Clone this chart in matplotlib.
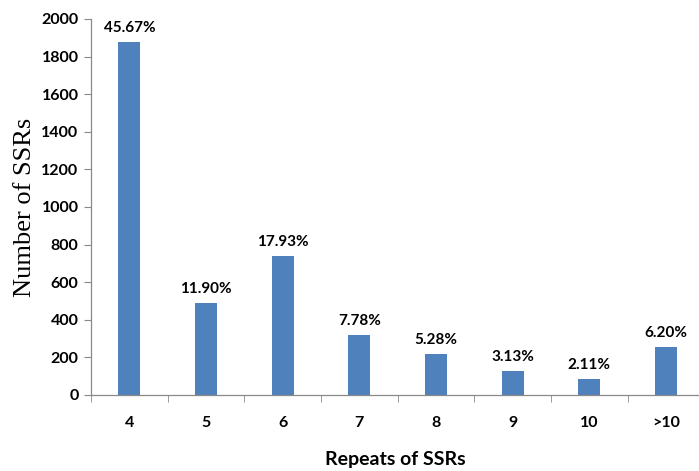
import numpy as np
import matplotlib.pyplot as plt

categories = ["4", "5", "6", "7", "8", "9", "10", ">10"]
counts = [1879, 490, 738, 320, 217, 129, 87, 255]
percents = ["45.67%", "11.90%", "17.93%", "7.78%", "5.28%", "3.13%", "2.11%", "6.20%"]
y_ticks = list(range(0, 2001, 200))

plt.rcParams["font.family"] = ["Lato", "DejaVu Sans"]

fig = plt.figure(figsize=(6.99, 4.71), dpi=100)
ax = fig.add_axes([91 / 699, 76 / 471, 1 - 91 / 699, 376 / 471])

x = np.arange(len(categories))
bars = ax.bar(x, counts, width=0.29, color="#4F81BD", zorder=2)

# percentage labels over the bars
for rect, lab in zip(bars, percents):
    ax.annotate(lab, (rect.get_x() + rect.get_width() / 2, rect.get_height()),
                xytext=(0, 5), textcoords="offset points", ha="center", va="bottom",
                fontsize=11, fontweight="bold")

ax.set_xlim(-0.5, 7.43)
ax.set_ylim(0, 2000)
ax.set_yticks(y_ticks)
ax.set_yticklabels([str(v) for v in y_ticks], fontsize=11.5, fontweight="bold")

ax.set_xticks(x)
ax.set_xticklabels(categories, fontsize=11.5, fontweight="bold")
ax.tick_params(axis="x", which="major", length=0, pad=15)
ax.set_xticks(np.arange(len(categories)) - 0.5, minor=True)
ax.tick_params(axis="x", which="minor", length=5, color="#898989", direction="out")
ax.tick_params(axis="y", length=5, color="#898989", pad=4)

for s in ["top", "right"]:
    ax.spines[s].set_visible(False)
for s in ["left", "bottom"]:
    ax.spines[s].set_color("#898989")
    ax.spines[s].set_linewidth(0.9)

ax.set_ylabel("Number of SSRs", fontsize=19, family="Liberation Serif", labelpad=4)
ax.set_xlabel("Repeats of SSRs", fontsize=14, fontweight="bold", labelpad=15)

fig.savefig("out.png", dpi=100)
